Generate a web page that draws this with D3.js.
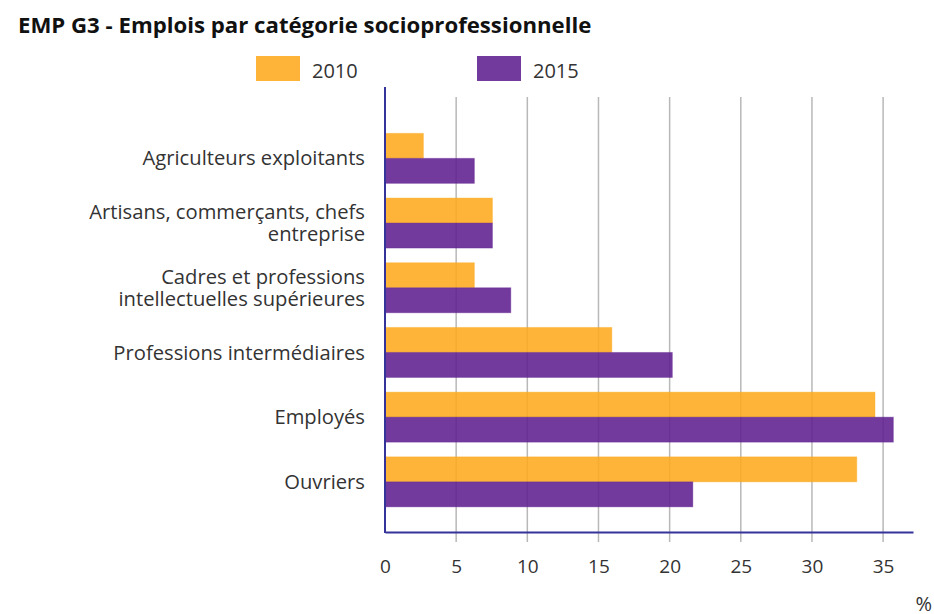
<!DOCTYPE html>
<html lang="fr">
<head>
<meta charset="utf-8">
<script src="https://cdn.jsdelivr.net/npm/d3@7"></script>
<style>
  html, body { margin: 0; padding: 0; background: #fff; }
  svg { display: block; font-family: "Open Sans", sans-serif; }
</style>
</head>
<body>
<svg id="chart" width="934" height="614"></svg>
<script>
// Emplois par catégorie socioprofessionnelle, en % (2010 vs 2015)
const categories = [
  ["Agriculteurs exploitants"],
  ["Artisans, commerçants, chefs", "entreprise"],
  ["Cadres et professions", "intellectuelles supérieures"],
  ["Professions intermédiaires"],
  ["Employés"],
  ["Ouvriers"]
];
const seriesNames = ["2010", "2015"];
const values2010 = [2.7, 7.55, 6.28, 15.94, 34.43, 33.15];
const values2015 = [6.28, 7.55, 8.84, 20.19, 35.72, 21.63];
const tickValues = [0, 5, 10, 15, 20, 25, 30, 35];
const xMax = 37.1;
const colors = ["#fdaa1c", "#5f1f8f"];

const svg = d3.select("#chart");
const catKeys = categories.map(c => c.join(" "));
const rows = catKeys.map((k, i) => ({ key: k, lines: categories[i], vals: [values2010[i], values2015[i]] }));

const x = d3.scaleLinear().domain([0, xMax]).range([385, 913]);
const y = d3.scaleBand().domain(catKeys).range([126, 514.2])
  .paddingInner(0.227).paddingOuter(0.1135);
const ySub = d3.scaleBand().domain(seriesNames).range([0, y.bandwidth()]);

// Title
svg.append("text")
  .attr("x", 18).attr("y", 33)
  .attr("font-size", 22.2).attr("font-weight", 700).attr("fill", "#111")
  .text("EMP G3 - Emplois par catégorie socioprofessionnelle");

// Legend
const legendX = [256, 477];
seriesNames.forEach((s, i) => {
  svg.append("rect").attr("x", legendX[i]).attr("y", 56).attr("width", 44).attr("height", 25)
    .attr("fill", colors[i]).attr("fill-opacity", 0.88);
  svg.append("text").attr("x", legendX[i] + 56).attr("y", 78)
    .attr("font-size", 20).attr("fill", "#333").text(s);
});

// Vertical grid lines (extend below the axis as tick marks)
svg.append("g").selectAll("line").data(tickValues.filter(t => t > 0)).join("line")
  .attr("x1", d => x(d)).attr("x2", d => x(d))
  .attr("y1", 97).attr("y2", 542)
  .attr("stroke", "#b8b8b8").attr("stroke-width", 1.5);

// Bars
const groups = svg.append("g").selectAll("g").data(rows).join("g")
  .attr("transform", d => `translate(0,${y(d.key)})`);
groups.selectAll("rect").data(d => d.vals.map((v, i) => ({ v, s: seriesNames[i], i }))).join("rect")
  .attr("x", x(0))
  .attr("y", d => ySub(d.s))
  .attr("width", d => x(d.v) - x(0))
  .attr("height", ySub.bandwidth())
  .attr("fill", d => colors[d.i])
  .attr("fill-opacity", 0.88)
  .attr("stroke", d => colors[d.i])
  .attr("stroke-opacity", 0.35)
  .attr("stroke-width", 1);

// Category labels
const labels = svg.append("g").selectAll("text").data(rows).join("text")
  .attr("text-anchor", "end").attr("font-size", 20.2).attr("fill", "#333")
  .attr("x", 365)
  .attr("y", d => y(d.key) + y.bandwidth() / 2);
labels.selectAll("tspan").data(d => d.lines.map((l, j) => ({ l, j, n: d.lines.length }))).join("tspan")
  .attr("x", 365)
  .attr("dy", d => d.j === 0 ? `${0.35 - (d.n - 1) * 0.53}em` : "1.06em")
  .text(d => d.l);

// Axes
const axisColor = "#33339a";
const xAxis = svg.append("g").attr("transform", "translate(0,532)")
  .call(d3.axisBottom(x).tickValues(tickValues).tickSize(0).tickPadding(0));
xAxis.select(".domain").attr("stroke", axisColor).attr("stroke-width", 2);
xAxis.selectAll("text").attr("font-size", 19).attr("fill", "#333")
  .attr("font-family", "Open Sans, sans-serif").attr("dy", 0).attr("y", 41);

svg.append("line").attr("x1", x(0)).attr("x2", x(0)).attr("y1", 87).attr("y2", 533)
  .attr("stroke", axisColor).attr("stroke-width", 2);

// Unit label
svg.append("text").attr("x", 932).attr("y", 611).attr("text-anchor", "end")
  .attr("font-size", 20).attr("fill", "#333").text("%");
</script>
</body>
</html>
